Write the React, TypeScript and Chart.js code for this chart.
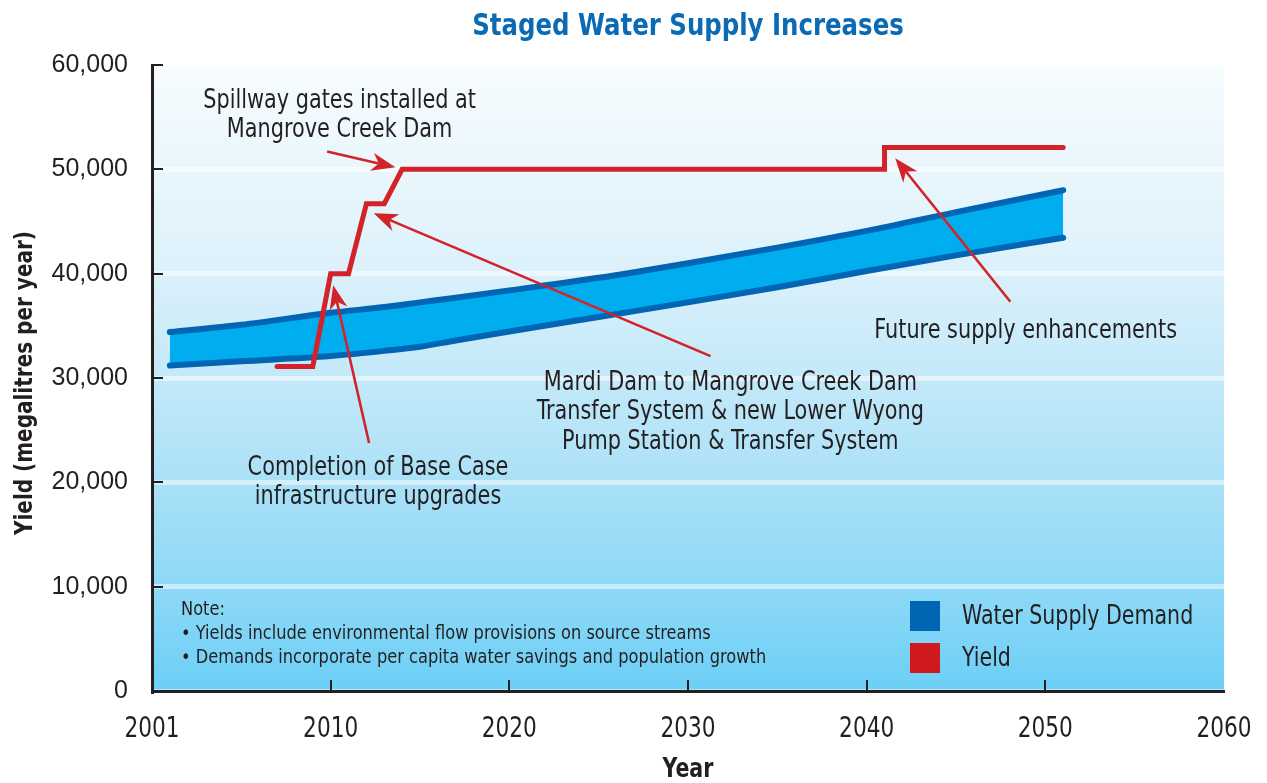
import React, { useEffect, useRef } from 'react';
import { Chart, registerables } from 'chart.js';
Chart.register(...registerables);

// ---------- data ----------
const demandYears = [2001, 2005, 2010, 2013, 2015, 2017, 2020, 2025, 2030, 2035, 2040, 2045, 2051];
const demandUpper = [34400, 35100, 36250, 36800, 37250, 37700, 38400, 39600, 41000, 42500, 44100, 45900, 48000];
const demandLower = [31200, 31600, 32100, 32600, 33000, 33600, 34450, 35850, 37250, 38700, 40250, 41750, 43450];

const yieldYears = [2007, 2009, 2010, 2011, 2012, 2013, 2014, 2041, 2041, 2051];
const yieldValues = [31100, 31100, 40000, 40000, 46700, 46700, 50000, 50000, 52100, 52100];

const xTickYears = [2000, 2010, 2020, 2030, 2040, 2050, 2060];
const xTickLabels = ['2001', '2010', '2020', '2030', '2040', '2050', '2060'];

const titleText = 'Staged Water Supply Increases';
const yTitle = 'Yield (megalitres per year)';
const xTitle = 'Year';
const legendLabels = ['Water Supply Demand', 'Yield'];
const noteLines = [
  'Note:',
  '\u2022 Yields include environmental flow provisions on source streams',
  '\u2022 Demands incorporate per capita water savings and population growth',
];

const annotationTexts = [
  ['Spillway gates installed at', 'Mangrove Creek Dam'],
  ['Mardi Dam to Mangrove Creek Dam', 'Transfer System & new Lower Wyong', 'Pump Station & Transfer System'],
  ['Completion of Base Case', 'infrastructure upgrades'],
  ['Future supply enhancements'],
];
// text anchors (year, value) and arrows (tail -> tip), in data units
const annotationAnchors = [
  [2010.5, 56550],
  [2032.37, 29520],
  [2012.65, 21370],
  [2048.9, 34500],
];
const arrowTails = [
  [2009.8, 51700],
  [2031.26, 32100],
  [2012.15, 23770],
  [2048.04, 37310],
];
const arrowTips = [
  [2013.62, 50200],
  [2012.41, 45790],
  [2010.14, 38900],
  [2041.6, 51060],
];

// ---------- styles ----------
const FONT_N = '"DejaVu Sans Condensed", "DejaVu Sans", sans-serif';
const FONT_S = '"Liberation Sans", Arial, sans-serif';
const DARK = '#231f20';
const BLUE_LINE = '#0065b2';
const BLUE_FILL = '#00adee';
const RED = '#d2232a';
const TITLE_BLUE = '#0a6ab4';

function squashText(ctx: CanvasRenderingContext2D, text: string, x: number, y: number, sx: number) {
  ctx.save();
  ctx.translate(x, y);
  ctx.scale(sx, 1);
  ctx.fillText(text, 0, 0);
  ctx.restore();
}

const bgPlugin = {
  id: 'bgPlugin',
  beforeDraw(chart: any) {
    const { ctx, chartArea } = chart;
    const { left, right, top, bottom } = chartArea;
    const g = ctx.createLinearGradient(0, top, 0, bottom);
    g.addColorStop(0, '#f7fcfe');
    g.addColorStop(0.3, '#dff2fb');
    g.addColorStop(0.6, '#b5e4f8');
    g.addColorStop(0.85, '#8bd8f6');
    g.addColorStop(1, '#6ccff6');
    ctx.save();
    ctx.fillStyle = g;
    ctx.fillRect(left, top, right - left, bottom - top);
    ctx.restore();
  },
};

function drawArrow(ctx: CanvasRenderingContext2D, x1: number, y1: number, x2: number, y2: number) {
  const ang = Math.atan2(y2 - y1, x2 - x1);
  const len = 24;
  const half = 9;
  const notch = 7;
  ctx.save();
  ctx.strokeStyle = RED;
  ctx.fillStyle = RED;
  ctx.lineWidth = 2.6;
  ctx.beginPath();
  ctx.moveTo(x1, y1);
  ctx.lineTo(x2 - Math.cos(ang) * (len - notch), y2 - Math.sin(ang) * (len - notch));
  ctx.stroke();
  ctx.translate(x2, y2);
  ctx.rotate(ang);
  ctx.beginPath();
  ctx.moveTo(0, 0);
  ctx.lineTo(-len, -half);
  ctx.lineTo(-len + notch, 0);
  ctx.lineTo(-len, half);
  ctx.closePath();
  ctx.fill();
  ctx.restore();
}

const overlayPlugin = {
  id: 'overlayPlugin',
  afterDraw(chart: any) {
    const { ctx, chartArea, scales } = chart;
    const xs = scales.x;
    const ys = scales.y;
    const { left, right, top, bottom } = chartArea;
    ctx.save();

    // inner ticks
    ctx.strokeStyle = DARK;
    ctx.lineWidth = 2;
    ys.ticks.forEach((t: any) => {
      const py = Math.round(ys.getPixelForValue(t.value));
      ctx.beginPath();
      ctx.moveTo(left, py);
      ctx.lineTo(left + 11, py);
      ctx.stroke();
    });
    xTickYears.forEach((v) => {
      if (v <= xs.min || v >= xs.max) return;
      const px = Math.round(xs.getPixelForValue(v));
      ctx.beginPath();
      ctx.moveTo(px, bottom);
      ctx.lineTo(px, bottom - 11);
      ctx.stroke();
    });

    // x tick labels
    ctx.fillStyle = DARK;
    ctx.font = `29px ${FONT_N}`;
    ctx.textAlign = 'center';
    ctx.textBaseline = 'middle';
    xTickYears.forEach((v, i) => {
      squashText(ctx, xTickLabels[i], xs.getPixelForValue(v), bottom + 38, 0.83);
    });

    // axis titles
    ctx.font = `bold 26px ${FONT_N}`;
    squashText(ctx, xTitle, (left + right) / 2, 770, 0.88);
    ctx.save();
    ctx.translate(25, (top + bottom) / 2 + 5);
    ctx.rotate(-Math.PI / 2);
    ctx.font = `bold 25px ${FONT_N}`;
    squashText(ctx, yTitle, 0, 0, 0.89);
    ctx.restore();

    // title
    ctx.fillStyle = TITLE_BLUE;
    ctx.font = `bold 30px ${FONT_N}`;
    squashText(ctx, titleText, (left + right) / 2, 27, 0.905);

    // arrows
    for (let i = 0; i < arrowTails.length; i++) {
      drawArrow(
        ctx,
        xs.getPixelForValue(arrowTails[i][0]),
        ys.getPixelForValue(arrowTails[i][1]),
        xs.getPixelForValue(arrowTips[i][0]),
        ys.getPixelForValue(arrowTips[i][1])
      );
    }

    // annotation texts
    ctx.fillStyle = DARK;
    ctx.font = `26px ${FONT_N}`;
    ctx.textAlign = 'center';
    annotationTexts.forEach((lines, i) => {
      const cx = xs.getPixelForValue(annotationAnchors[i][0]);
      const cy = ys.getPixelForValue(annotationAnchors[i][1]);
      lines.forEach((ln, j) => squashText(ctx, ln, cx, cy + j * 29.5, 0.89));
    });

    // note
    ctx.font = `19px ${FONT_N}`;
    ctx.textAlign = 'left';
    noteLines.forEach((ln, j) => squashText(ctx, ln, left + 29, bottom - 81 + j * 24, 0.95));

    // legend
    const colors = [BLUE_LINE, '#d0181f'];
    ctx.font = `26px ${FONT_N}`;
    legendLabels.forEach((lb, j) => {
      const sy = bottom - 90 + j * 42;
      ctx.fillStyle = colors[j];
      ctx.fillRect(left + 758, sy, 30, 30);
      ctx.fillStyle = DARK;
      squashText(ctx, lb, left + 810, sy + 16, 0.88);
    });

    ctx.restore();
  },
};

export default function App() {
  const ref = useRef<HTMLCanvasElement>(null);
  useEffect(() => {
    const canvas = ref.current!;
    const chart = new Chart(canvas, {
      type: 'line',
      data: {
        datasets: [
          {
            label: 'Yield',
            data: yieldYears.map((x, i) => ({ x, y: yieldValues[i] })),
            borderColor: RED,
            borderWidth: 5,
            pointRadius: 0,
            tension: 0,
            fill: false,
            borderCapStyle: 'round',
            borderJoinStyle: 'miter',
          },
          {
            label: 'Demand upper',
            data: demandYears.map((x, i) => ({ x, y: demandUpper[i] })),
            borderColor: BLUE_LINE,
            borderWidth: 6,
            pointRadius: 0,
            cubicInterpolationMode: 'monotone',
            fill: false,
            borderCapStyle: 'round',
          },
          {
            label: 'Demand lower',
            data: demandYears.map((x, i) => ({ x, y: demandLower[i] })),
            borderColor: BLUE_LINE,
            backgroundColor: BLUE_FILL,
            borderWidth: 6,
            pointRadius: 0,
            cubicInterpolationMode: 'monotone',
            fill: 1,
            borderCapStyle: 'round',
          },
        ],
      } as any,
      options: {
        responsive: false,
        animation: false,
        events: [],
        layout: { padding: { top: 65, right: 43, left: 0, bottom: 0 } },
        plugins: {
          legend: { display: false },
          tooltip: { enabled: false },
          title: { display: false },
          filler: { drawTime: 'beforeDatasetsDraw' },
        } as any,
        scales: {
          x: {
            type: 'linear',
            min: 2000,
            max: 2060,
            afterFit(scale: any) {
              scale.height = 92;
            },
            ticks: { display: false, stepSize: 10 },
            grid: { display: false, drawTicks: false },
            border: { display: true, color: DARK, width: 3 },
            title: { display: false },
          },
          y: {
            min: 0,
            max: 60000,
            afterFit(scale: any) {
              scale.width = 152;
            },
            ticks: {
              stepSize: 10000,
              padding: 24,
              color: DARK,
              font: { family: FONT_S, size: 25 },
              callback: (v: any) => Number(v).toLocaleString('en-US'),
            },
            grid: { color: 'rgba(255,255,255,0.5)', lineWidth: 5, drawTicks: false },
            border: { display: true, color: DARK, width: 3 },
            title: { display: false },
          },
        } as any,
      },
      plugins: [bgPlugin, overlayPlugin],
    });
    return () => chart.destroy();
  }, []);
  return (
    <div style={{ position: 'absolute', left: 0, top: 0, width: 1267, height: 783, background: '#fff' }}>
      <canvas ref={ref} width={1267} height={783} style={{ width: 1267, height: 783, display: 'block' }} />
    </div>
  );
}
